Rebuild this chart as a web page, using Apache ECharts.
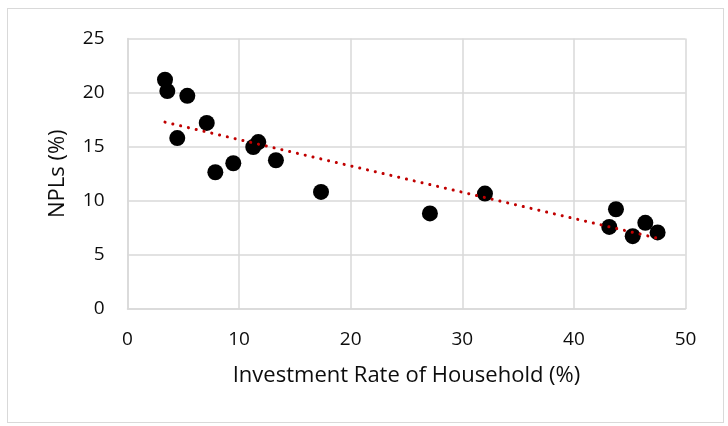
<!DOCTYPE html>
<html>
<head>
<meta charset="utf-8">
<script src="https://cdn.jsdelivr.net/npm/echarts@6/dist/echarts.min.js"></script>
<style>
  html, body { margin: 0; padding: 0; background: #fff; }
  #frame { position: absolute; left: 7px; top: 8px; width: 717px; height: 415px; border: 1.5px solid #d9d9d9; box-sizing: border-box; }
  #chart { width: 728px; height: 426px; position: absolute; left: 0; top: 0; }
</style>
</head>
<body>
<div id="frame"></div>
<div id="chart"></div>
<script>
// Household investment rate (%) vs. non-performing loans (%)
const investmentRate = [3.36, 3.57, 5.36, 7.10, 4.46, 7.87, 9.48, 11.27, 11.72, 13.30, 17.34, 27.10, 32.03, 43.17, 43.77, 45.27, 46.40, 47.50];
const nplRate        = [21.19, 20.14, 19.70, 17.20, 15.80, 12.64, 13.47, 14.97, 15.43, 13.75, 10.82, 8.83, 10.67, 7.59, 9.22, 6.73, 7.96, 7.08];

const xTicks = [0, 10, 20, 30, 40, 50];
const yTicks = [0, 5, 10, 15, 20, 25];

// Least-squares linear trend through the points
function linearFit(xs, ys) {
  const n = xs.length;
  const mx = xs.reduce((a, b) => a + b, 0) / n;
  const my = ys.reduce((a, b) => a + b, 0) / n;
  let sxy = 0, sxx = 0;
  for (let i = 0; i < n; i++) {
    sxy += (xs[i] - mx) * (ys[i] - my);
    sxx += (xs[i] - mx) * (xs[i] - mx);
  }
  const slope = sxy / sxx;
  return { slope, intercept: my - slope * mx };
}
const fit = linearFit(investmentRate, nplRate);
const xMin = Math.min(...investmentRate), xMax = Math.max(...investmentRate);
const trend = [[xMin, fit.intercept + fit.slope * xMin], [xMax, fit.intercept + fit.slope * xMax]];

const points = investmentRate.map((x, i) => [x, nplRate[i]]);

const font = 'Open Sans';
const textColor = '#0d0d0d';
const gridColor = '#d9d9d9';
const chart = echarts.init(document.getElementById('chart'), null, { renderer: 'canvas' });
chart.setOption({
  animation: false,
  grid: { left: 127.5, right: 42.5, top: 38.5, bottom: 117, containLabel: false },
  xAxis: {
    type: 'value',
    min: xTicks[0], max: xTicks[xTicks.length - 1], interval: 10,
    name: 'Investment Rate of Household (%)',
    nameLocation: 'middle', nameGap: 56,
    nameTextStyle: { fontFamily: font, fontSize: 22, color: textColor },
    axisLine: { show: true, lineStyle: { color: gridColor, width: 1.5 } },
    axisTick: { show: false },
    axisLabel: { fontFamily: font, fontSize: 19, color: textColor, margin: 21 },
    splitLine: { show: true, lineStyle: { color: gridColor, width: 1.5 } }
  },
  yAxis: {
    type: 'value',
    min: yTicks[0], max: yTicks[yTicks.length - 1], interval: 5,
    name: 'NPLs (%)',
    nameLocation: 'middle', nameGap: 59,
    nameTextStyle: { fontFamily: font, fontSize: 22, color: textColor },
    axisLine: { show: true, lineStyle: { color: gridColor, width: 1.5 } },
    axisTick: { show: false },
    axisLabel: { fontFamily: font, fontSize: 19, color: textColor, margin: 23 },
    splitLine: { show: true, lineStyle: { color: gridColor, width: 1.5 } }
  },
  series: [
    {
      type: 'scatter',
      data: points,
      symbol: 'circle',
      symbolSize: 16,
      itemStyle: { color: '#000000', opacity: 1 },
      z: 2
    },
    {
      type: 'line',
      data: trend,
      showSymbol: false,
      lineStyle: { color: '#c00000', width: 3, type: [0.1, 7.9], cap: 'round' },
      z: 3
    }
  ]
});
</script>
</body>
</html>
